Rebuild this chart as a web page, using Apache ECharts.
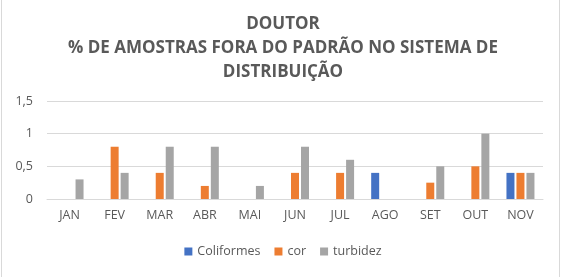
<!DOCTYPE html>
<html><head><meta charset="utf-8">
<script src="https://cdn.jsdelivr.net/npm/echarts@6/dist/echarts.min.js"></script>
<style>html,body{margin:0;padding:0;background:#fff}#c{width:566px;height:277px}</style>
</head><body><div id="c"></div>
<script>
const categories = ['JAN','FEV','MAR','ABR','MAI','JUN','JUL','AGO','SET','OUT','NOV'];
const coliformes = [null,null,null,null,null,null,null,0.4,null,null,0.4];
const cor = [null,0.8,0.4,0.2,null,0.4,0.4,null,0.25,0.5,0.4];
const turbidez = [0.3,0.4,0.8,0.8,0.2,0.8,0.6,null,0.5,1.0,0.4];
const yTicks = [0,0.5,1,1.5];
const titleText = 'DOUTOR\n% DE AMOSTRAS FORA DO PADRÃO NO SISTEMA DE\nDISTRIBUIÇÃO';

const chart = echarts.init(document.getElementById('c'));
const font = 'Open Sans';
chart.setOption({
  animation:false,
  graphic:[{type:'rect',shape:{x:1.5,y:-2,width:558,height:300},style:{fill:null,stroke:'#d9d9d9',lineWidth:1}}],
  title:{text:titleText,left:'center',top:7,textStyle:{fontFamily:font,fontWeight:'bold',fontSize:17,color:'#595959',lineHeight:24}},
  legend:{bottom:14,left:'center',itemWidth:8,itemHeight:8,itemGap:14,icon:'rect',
    textStyle:{fontFamily:font,fontSize:12.5,color:'#595959'},data:['Coliformes','cor','turbidez']},
  grid:{left:47,right:23,top:101,bottom:78},
  xAxis:{type:'category',data:categories,axisTick:{show:false},
    axisLine:{lineStyle:{color:'#d9d9d9'}},
    axisLabel:{fontFamily:font,fontSize:12.5,color:'#595959',margin:10}},
  yAxis:{type:'value',min:0,max:1.5,interval:0.5,
    axisLabel:{fontFamily:font,fontSize:12.5,color:'#595959',margin:14,
      formatter:v=>String(v).replace('.',',')},
    splitLine:{lineStyle:{color:'#d9d9d9'}},axisLine:{show:false},axisTick:{show:false}},
  series:[
    {name:'Coliformes',type:'bar',data:coliformes,barWidth:8,barGap:'25%',itemStyle:{color:'#4472c4'}},
    {name:'cor',type:'bar',data:cor,barWidth:8,barGap:'25%',itemStyle:{color:'#ed7d31'}},
    {name:'turbidez',type:'bar',data:turbidez,barWidth:8,barGap:'25%',itemStyle:{color:'#a5a5a5'}}
  ]
});
</script></body></html>
